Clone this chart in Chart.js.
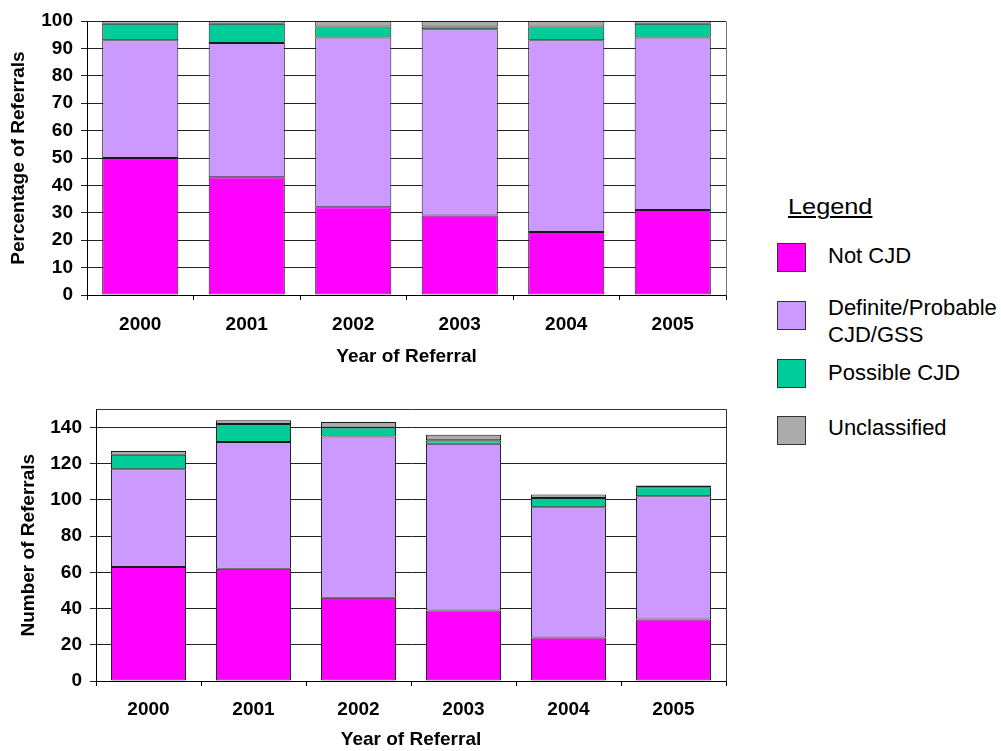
<!DOCTYPE html>
<html>
<head>
<meta charset="utf-8">
<title>CJD Referrals by Year</title>
<script src="https://cdn.jsdelivr.net/npm/chart.js@4/dist/chart.umd.min.js"></script>
<style>
  html, body { margin: 0; padding: 0; background: #fff; overflow: hidden; }
  body { width: 1001px; height: 751px; position: relative; font-family: "Liberation Sans", Arial, sans-serif; color: #000; }
  canvas { position: absolute; left: 0; }
  #pctChart { top: 0; }
  #numChart { top: 390px; }
  .legend-title { position: absolute; left: 788px; top: 194px; font-size: 22px; line-height: 26px;
                  text-decoration: underline; transform: scaleX(1.15); transform-origin: left center; white-space: nowrap; }
  .swatch { position: absolute; left: 777px; width: 27px; height: 27px; border: 1px solid #333; }
  .label { position: absolute; left: 828px; font-size: 22px; line-height: 26px; white-space: nowrap; }
</style>
</head>
<body>
<canvas id="pctChart" width="740" height="372"></canvas>
<canvas id="numChart" width="740" height="361"></canvas>

<div class="legend-title">Legend</div>
<div class="swatch" id="sw0" style="top:243px"></div>
<div class="label" style="top:243px">Not CJD</div>
<div class="swatch" id="sw1" style="top:301px"></div>
<div class="label" style="top:294px; line-height:27px">Definite/Probable<br>CJD/GSS</div>
<div class="swatch" id="sw2" style="top:359px"></div>
<div class="label" style="top:360px">Possible CJD</div>
<div class="swatch" id="sw3" style="top:416px"></div>
<div class="label" style="top:415px">Unclassified</div>

<script>
// Years of referral (x categories)
const years = ['2000', '2001', '2002', '2003', '2004', '2005'];

// Series names
const seriesNames = ['Not CJD', 'Definite/Probable CJD/GSS', 'Possible CJD', 'Unclassified'];

// Percentage of referrals per year
const pctNotCJD        = [50, 43, 32, 29, 23, 31];
const pctDefinite      = [43, 49, 62, 68, 70, 63];
const pctPossible      = [6, 7, 4, 1, 5, 5];
const pctUnclassified  = [1, 1, 2, 2, 2, 1];

// Number of referrals per year
const numNotCJD        = [63, 62, 46, 39, 24, 34];
const numDefinite      = [54, 70, 89, 92, 72, 68];
const numPossible      = [8, 10, 5, 2, 5, 5];
const numUnclassified  = [2, 2, 3, 3, 2, 1];

// Value-axis tick labels
const pctTickValues = [0, 10, 20, 30, 40, 50, 60, 70, 80, 90, 100];
const numTickValues = [0, 20, 40, 60, 80, 100, 120, 140];

// Value-axis ranges
const pctAxis = { min: 0, max: 100, ticks: pctTickValues };
const numAxis = { min: 0, max: 150, ticks: numTickValues };

const axisTitleX = 'Year of Referral';
const pctTitleY = 'Percentage of Referrals';
const numTitleY = 'Number of Referrals';

const colors = ['#FF00FF', '#CC99FF', '#00CC99', '#ABABAB'];
const FONT = '"Liberation Sans", Arial, Helvetica, sans-serif';

colors.forEach((c, i) => { document.getElementById('sw' + i).style.background = c; });

// Draws a frame round the plotting area
const plotFrame = {
  id: 'plotFrame',
  afterDraw(chart, args, opts) {
    const { ctx, chartArea: a } = chart;
    ctx.save();
    ctx.strokeStyle = opts.color || '#333';
    ctx.lineWidth = 1;
    ctx.beginPath();
    if (opts.top) { ctx.moveTo(Math.round(a.left) + 0.5, Math.round(a.top) + 0.5); ctx.lineTo(Math.round(a.right) + 0.5, Math.round(a.top) + 0.5); }
    ctx.moveTo(Math.round(a.right) + 0.5, Math.round(a.top) + 0.5);
    ctx.lineTo(Math.round(a.right) + 0.5, Math.round(a.bottom) + 0.5);
    ctx.stroke();
    ctx.restore();
  }
};

function makeDatasets(series) {
  return series.map((data, i) => ({
    label: seriesNames[i],
    data: data,
    backgroundColor: colors[i],
    borderColor: '#1a1a1a',
    borderWidth: 1,
    borderSkipped: false,
    categoryPercentage: 1.0,
    barPercentage: 0.715
  }));
}

function makeChart(canvasId, series, axis, cfg) {
  return new Chart(document.getElementById(canvasId), {
    type: 'bar',
    data: { labels: years, datasets: makeDatasets(series) },
    plugins: [plotFrame],
    options: {
      responsive: false,
      animation: false,
      devicePixelRatio: 1,
      layout: { padding: { top: cfg.padTop, right: cfg.padRight, left: 0, bottom: 0 } },
      plugins: {
        legend: { display: false },
        tooltip: { enabled: false },
        plotFrame: { color: cfg.frameColor, top: cfg.frameTop }
      },
      scales: {
        x: {
          stacked: true,
          grid: { drawOnChartArea: false, drawTicks: true, tickLength: 5, color: '#000', offset: true },
          border: { display: true, color: '#000', width: 1 },
          ticks: { color: '#000', padding: cfg.xTickPad, font: { family: FONT, size: 19, weight: 'bold' }, maxRotation: 0 },
          title: { display: true, text: axisTitleX, color: '#000',
                   font: { family: FONT, size: 19, weight: 'bold' }, padding: { top: 0, bottom: cfg.xTitlePad } },
          afterFit(scale) { scale.height = cfg.xHeight; }
        },
        y: {
          stacked: true,
          min: axis.min,
          max: axis.max,
          grid: { drawOnChartArea: true, drawTicks: true, tickLength: 6, color: '#222', lineWidth: 1 },
          border: { display: true, color: '#000', width: 1 },
          ticks: { color: '#000', padding: 8, font: { family: FONT, size: 19, weight: 'bold' } },
          title: { display: true, text: cfg.yTitle, color: '#000',
                   font: { family: FONT, size: 19, weight: 'bold' }, padding: { top: cfg.yTitlePad, bottom: 0 } },
          afterBuildTicks(scale) {
            scale.ticks = axis.ticks.map(v => ({ value: v }));
          },
          afterFit(scale) { scale.width = cfg.yWidth; }
        }
      }
    }
  });
}

makeChart('pctChart', [pctNotCJD, pctDefinite, pctPossible, pctUnclassified], pctAxis, {
  padTop: 21, padRight: 14, xHeight: 77, yWidth: 87, xTickPad: 13, xTitlePad: 4,
  yTitle: pctTitleY, yTitlePad: 7, frameColor: '#777', frameTop: false
});

makeChart('numChart', [numNotCJD, numDefinite, numPossible, numUnclassified], numAxis, {
  padTop: 17, padRight: 14, xHeight: 70, yWidth: 96, xTickPad: 12, xTitlePad: 0,
  yTitle: numTitleY, yTitlePad: 17, frameColor: '#333', frameTop: true
});
</script>
</body>
</html>
